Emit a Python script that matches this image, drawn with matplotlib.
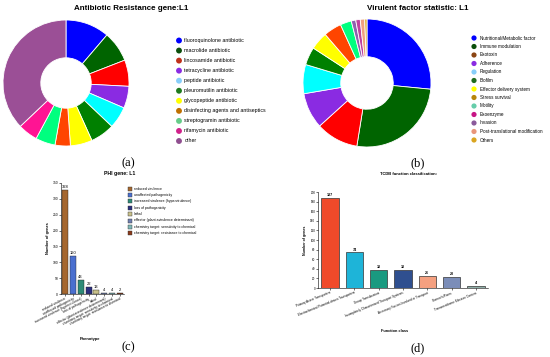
import matplotlib
matplotlib.use("Agg")
import matplotlib.pyplot as plt
import numpy as np

plt.rcParams["font.family"] = ["Liberation Sans", "DejaVu Sans"]

W, H = 550, 357

# ---------------- data ----------------
arg_labels = [
    "fluoroquinolone antibiotic", "macrolide antibiotic", "lincosamide antibiotic",
    "tetracycline antibiotic", "peptide antibiotic", "pleuromutilin antibiotic",
    "glycopeptide antibiotic", "disinfecting agents and antiseptics",
    "streptogramin antibiotic", "rifamycin antibiotic", "other",
]
arg_counts = [20, 14, 12, 10, 10, 11, 10, 7, 9, 9, 66]

vf_labels = [
    "Nutritional/Metabolic factor", "Immune modulation", "Exotoxin", "Adherence",
    "Regulation", "Biofilm", "Effector delivery system", "Stress survival",
    "Motility", "Exoenzyme", "Invasion", "Post-translational modification", "Others",
]
vf_counts = [47, 46, 19, 16, 13, 8, 8, 8, 5, 2, 2, 2, 1]

phi_labels = [
    "reduced virulence", "unaffected pathogenicity",
    "increased virulence (hypervirulence)", "loss of pathogenicity", "lethal",
    "effector (plant avirulence determinant)",
    "chemistry target: sensitivity to chemical",
    "chemistry target: resistance to chemical",
]
phi_counts = [328, 120, 43, 22, 13, 4, 4, 2]

tcdb_labels = [
    "Primary Active Transporters", "Electrochemical Potential-driven Transporters",
    "Group Translocators", "Incompletely Characterized Transport Systems",
    "Accessory Factors Involved in Transport", "Channels/Pores",
    "Transmembrane Electron Carriers",
]
tcdb_counts = [187, 74, 38, 38, 26, 23, 4]

# ---------------- colours ----------------
arg_pie_colors = ["#0000FF", "#006400", "#FF0000", "#8A2BE2", "#00FFFF", "#008000",
                  "#FFFF00", "#FF4500", "#00FF7F", "#FF1493", "#9B4F96"]
arg_leg_colors = ["#0000FF", "#0B4F0B", "#C0301A", "#8A2BE2", "#87CEFA", "#1E7B1E",
                  "#FFFF00", "#C07000", "#66CC88", "#D0208A", "#8F4E8F"]
vf_pie_colors = ["#0000FF", "#006400", "#FF0000", "#8A2BE2", "#00FFFF", "#008000",
                 "#FFFF00", "#FF4500", "#00FF7F", "#9060B0", "#C040A0", "#F0A080",
                 "#DAA520"]
vf_leg_colors = ["#0000FF", "#0B4F0B", "#8B4513", "#8A2BE2", "#87CEFA", "#1E6B1E",
                 "#FFFF00", "#B8860B", "#66CDAA", "#C71585", "#8B5A9B", "#E9967A",
                 "#DAA520"]
phi_colors = ["#A5672F", "#4A6FCF", "#2E8B77", "#2B2F7F", "#C8C08A", "#6F7FB0",
              "#7FB8B8", "#8B3A1A"]
tcdb_colors = ["#F04A2A", "#1EB4D8", "#1A9A80", "#2F4F8F", "#F5A080", "#7B8DB8",
               "#8FB0A8"]


def box(l, t, r, b):
    """Pixel box -> figure fraction rect."""
    return [l / W, 1 - b / H, (r - l) / W, (b - t) / H]


fig = plt.figure(figsize=(W / 100, H / 100), dpi=100)

# overlay axes in pixel coordinates for titles / legends / labels
ov = fig.add_axes([0, 0, 1, 1], zorder=5)
ov.set_xlim(0, W)
ov.set_ylim(H, 0)
ov.axis("off")


# ---------------- donuts ----------------
def donut(rect, counts, colors, width):
    ax = fig.add_axes(rect)
    ax.pie(counts, colors=colors, startangle=90, counterclock=False,
           wedgeprops=dict(width=width, edgecolor="white", linewidth=0.6))
    ax.set_xlim(-1, 1)
    ax.set_ylim(-1, 1)
    ax.axis("off")
    return ax


donut(box(3, 20, 129, 146), arg_counts, arg_pie_colors, 0.6)
donut(box(303, 19, 431, 147), vf_counts, vf_pie_colors, 0.59)

ov.text(131, 9, "Antibiotic Resistance gene:L1", ha="center", va="center",
        fontsize=5.8, fontweight="bold")
ov.text(418, 8, "Virulent factor statistic: L1", ha="center", va="center",
        fontsize=5.8, fontweight="bold")

for i, (lab, col) in enumerate(zip(arg_labels, arg_leg_colors)):
    y = 40.5 + i * 10.05
    ov.scatter(179, y, s=18, color=col, edgecolor="none")
    ov.text(184.5, y, lab, ha="left", va="center", fontsize=3.8)

for i, (lab, col) in enumerate(zip(vf_labels, vf_leg_colors)):
    y = 38 + i * 8.5
    ov.scatter(474, y, s=14, color=col, edgecolor="none")
    ov.text(479.5, y, lab, ha="left", va="center", fontsize=3.3)


# ---------------- bar panels ----------------
def style_bar_ax(ax, ymax, step, tick_fs):
    ax.set_ylim(0, ymax)
    ax.set_yticks(np.arange(0, ymax + 1, step))
    ax.spines["top"].set_visible(False)
    ax.spines["right"].set_visible(False)
    for s in ("left", "bottom"):
        ax.spines[s].set_linewidth(0.4)
    ax.tick_params(axis="both", labelsize=tick_fs, width=0.4, length=1.2, pad=0.8)


# (c) PHI
axc = fig.add_axes(box(61, 183, 124, 294))
xc = np.arange(len(phi_counts))
axc.bar(xc, phi_counts, width=0.75, color=phi_colors, edgecolor="#222222",
        linewidth=0.3)
for x, v in zip(xc, phi_counts):
    axc.text(x, v + 3, str(v), ha="center", va="bottom", fontsize=3)
axc.set_xlim(-0.5, 7.5)
style_bar_ax(axc, 350, 50, 2.4)
axc.set_xticks(xc)
axc.set_xticklabels(phi_labels, rotation=27, ha="right", rotation_mode="anchor",
                    fontsize=2.3)
axc.set_ylabel("Number of genes", fontsize=2.8, fontweight="bold", labelpad=2)
ov.text(90, 339, "Phenotype", ha="center", va="center", fontsize=2.9,
        fontweight="bold")
ov.text(120, 173, "PHI gene: L1", ha="center", va="center", fontsize=3.7,
        fontweight="bold")

for i, (lab, col) in enumerate(zip(phi_labels, phi_colors)):
    y = 188.5 + i * 6.4
    ov.scatter(130, y, s=7, marker="s", color=col, edgecolor="#333333",
               linewidth=0.3)
    ov.text(133.5, y, lab, ha="left", va="center", fontsize=2.5)

# (d) TCDB
axd = fig.add_axes(box(318, 192, 488, 288))
xd = np.arange(len(tcdb_counts))
axd.bar(xd, tcdb_counts, width=0.72, color=tcdb_colors, edgecolor="#333333",
        linewidth=0.5)
for x, v in zip(xd, tcdb_counts):
    axd.text(x, v + 2, str(v), ha="center", va="bottom", fontsize=2.6,
             fontweight="bold")
axd.set_xlim(-0.5, 6.5)
style_bar_ax(axd, 200, 20, 2.2)
axd.set_xticks(xd)
axd.set_xticklabels(tcdb_labels, rotation=22, ha="right", rotation_mode="anchor",
                    fontsize=2.2)
axd.set_ylabel("Number of genes", fontsize=2.6, fontweight="bold", labelpad=2)
ov.text(395, 331, "Function class", ha="center", va="center", fontsize=2.8,
        fontweight="bold")
ov.text(408, 174, "TCDB function classification:", ha="center", va="center",
        fontsize=3.0, fontweight="bold")

# panel letters
for lab, x, y in [("(a)", 128, 163), ("(b)", 418, 163), ("(c)", 128, 347),
                  ("(d)", 418, 348)]:
    ov.text(x, y, lab, ha="center", va="center", fontsize=9,
            family=["Liberation Serif", "DejaVu Serif"])

fig.savefig("out.png", dpi=100)
